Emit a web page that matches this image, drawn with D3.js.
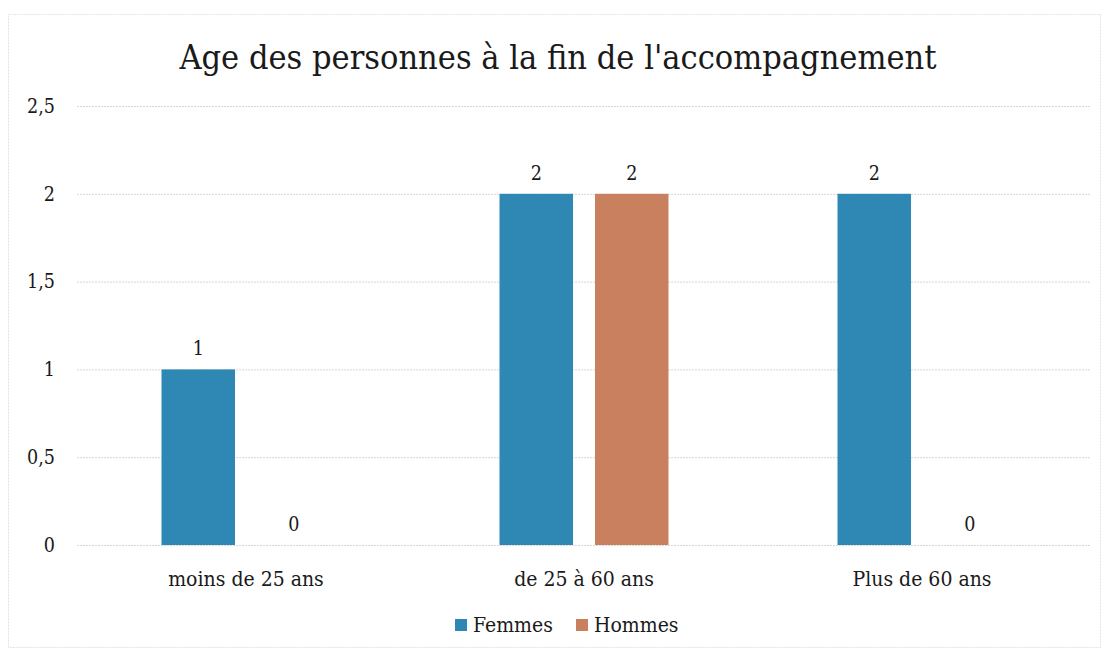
<!DOCTYPE html>
<meta charset="utf-8">
<style>
    body { margin: 0; background: #fff; }
    text { font-family: "DejaVu Serif Condensed", "DejaVu Serif", serif; font-stretch: condensed; fill: #1a1a1a; }
</style>
<svg width="1106" height="653"></svg>

<script src="https://d3js.org/d3.v7.min.js"></script>
<script>
    var categories = ["moins de 25 ans", "de 25 à 60 ans", "Plus de 60 ans"],
        seriesNames = ["Femmes", "Hommes"],
        femmes = [1, 2, 2],
        hommes = [0, 2, 0],
        yTicks = [0, 0.5, 1, 1.5, 2, 2.5],
        title = "Age des personnes à la fin de l'accompagnement";

    (function () {
        var svg = d3.select("svg"),
            width = +svg.attr("width"),
            height = +svg.attr("height"),
            margin = {top: 106, right: 15, bottom: 108, left: 77},
            color = d3.scaleOrdinal().domain(seriesNames).range(["#2f88b4", "#c9805f"]),
            rows = categories.map(function (c, i) {
                return {cat: c, values: [femmes[i], hommes[i]]};
            });

        var x0 = d3.scaleBand()
                .domain(categories)
                .range([margin.left, width - margin.right])
                .paddingInner(0.5)
                .paddingOuter(0.25),
            x1 = d3.scaleBand()
                .domain(seriesNames)
                .range([0, x0.bandwidth()])
                .paddingInner(0.23),
            y = d3.scaleLinear()
                .domain([0, 2.5])
                .range([height - margin.bottom, margin.top]);

        // chart frame
        svg.append("rect")
            .attr("x", 8.5).attr("y", 14.5)
            .attr("width", width - 14).attr("height", height - 20)
            .attr("fill", "none")
            .attr("stroke", "#e2e2e2")
            .attr("stroke-dasharray", "2,1");

        svg.append("text")
            .attr("x", width / 2 + 5)
            .attr("y", 69)
            .attr("text-anchor", "middle")
            .style("font-size", "34px")
            .text(title);

        var yAxis = svg.append("g")
            .attr("transform", "translate(" + margin.left + ",0)")
            .call(d3.axisLeft(y)
                .tickValues(yTicks)
                .tickSize(-(width - margin.left - margin.right))
                .tickPadding(22)
                .tickFormat(function (d) { return String(d).replace(".", ","); }));
        yAxis.select(".domain").remove();
        yAxis.selectAll(".tick line")
            .attr("stroke", "#d6d6d6")
            .attr("stroke-dasharray", "2,1");
        yAxis.selectAll(".tick text")
            .style("font-size", "19.5px");

        var xAxis = svg.append("g")
            .attr("transform", "translate(0," + (height - margin.bottom) + ")")
            .call(d3.axisBottom(x0).tickSize(0).tickPadding(26));
        xAxis.select(".domain").remove();
        xAxis.selectAll(".tick text")
            .style("font-size", "21px");

        var group = svg.append("g").selectAll("g")
            .data(rows)
            .join("g")
            .attr("transform", function (d) { return "translate(" + x0(d.cat) + ",0)"; });

        var cells = group.selectAll("g")
            .data(function (d) {
                return d.values.map(function (v, i) { return {key: seriesNames[i], value: v}; });
            })
            .join("g");

        cells.append("rect")
            .attr("x", function (d) { return x1(d.key); })
            .attr("y", function (d) { return y(d.value); })
            .attr("width", x1.bandwidth())
            .attr("height", function (d) { return y(0) - y(d.value); })
            .attr("fill", function (d) { return color(d.key); });

        cells.append("text")
            .attr("x", function (d) { return x1(d.key) + x1.bandwidth() / 2; })
            .attr("y", function (d) { return y(d.value) - 14; })
            .attr("text-anchor", "middle")
            .style("font-size", "19.5px")
            .text(function (d) { return d.value; });

        // legend
        var legend = svg.append("g")
            .attr("transform", "translate(455,619)");
        var item = legend.selectAll("g")
            .data(seriesNames)
            .join("g")
            .attr("transform", function (d, i) { return "translate(" + (i * 121) + ",0)"; });
        item.append("rect")
            .attr("width", 12).attr("height", 12)
            .attr("fill", color);
        item.append("text")
            .attr("x", 18)
            .attr("y", 13)
            .style("font-size", "21px")
            .text(function (d) { return d; });
    })();
</script>
